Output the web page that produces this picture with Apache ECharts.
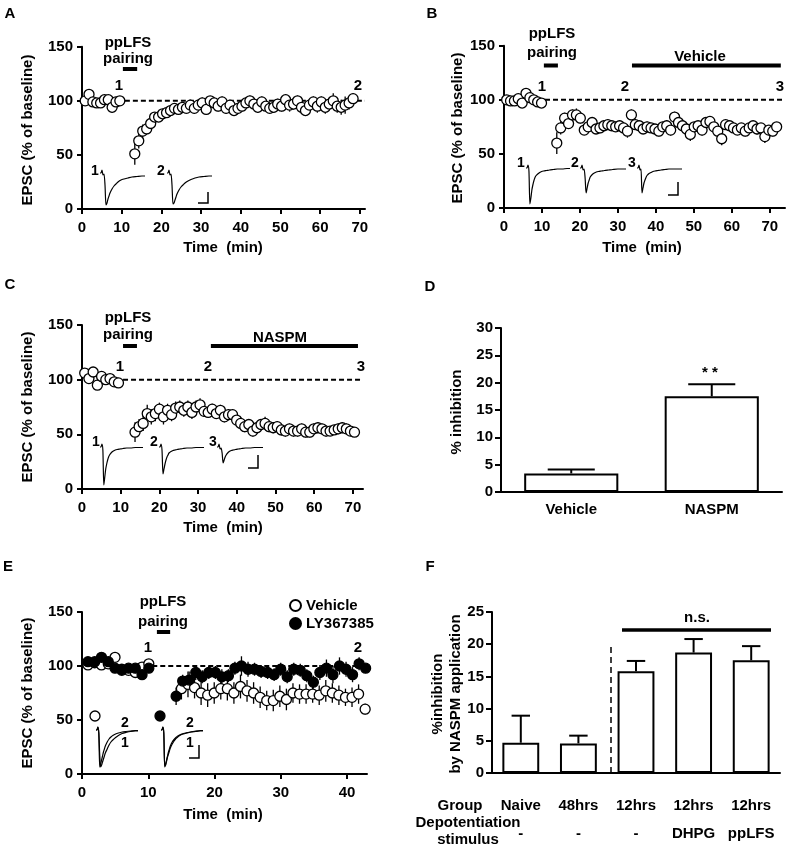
<!DOCTYPE html>
<html>
<head>
<meta charset="utf-8">
<script src="https://cdn.jsdelivr.net/npm/echarts@6/dist/echarts.min.js"></script>
<style>
  html, body { margin: 0; padding: 0; background: #fff; }
  #chart { width: 790px; height: 850px; }
</style>
</head>
<body>
<div id="chart"></div>
<script>
// ---- A: ppLFS pairing, % of baseline ----
const aBaseVal = [100, 106, 99, 98, 98, 101, 101, 94, 99, 100];
const aBaseErr = [3, 3, 3, 2, 3, 3, 3, 5, 3, 2];
const aPostVal = [51, 63, 72, 74, 79, 85, 85, 88, 89, 91, 93, 92, 94, 93, 96, 93, 96, 98, 92, 100,
  98, 95, 99, 93, 96, 91, 93, 95, 98, 100, 97, 94, 99, 95, 93, 94, 97, 95, 101, 96,
  97, 100, 94, 91, 96, 99, 95, 99, 94, 97, 100, 95, 94, 96, 98, 102];
const aPostErr = [10, 7, 6, 5, 5, 4, 4, 4, 4, 4, 4, 4, 4, 4, 5, 5, 4, 5, 5, 4,
  4, 5, 5, 5, 4, 5, 5, 5, 5, 5, 4, 5, 5, 5, 4, 5, 5, 5, 5, 6,
  5, 5, 6, 5, 5, 5, 6, 5, 6, 6, 7, 6, 7, 8, 6, 5];

// ---- B: ppLFS then vehicle ----
const bBaseVal = [100, 99, 99, 101, 97, 106, 102, 100, 98, 97];
const bBaseErr = [2, 2, 2, 3, 3, 3, 3, 3, 2, 2];
const bPostVal = [60, 74, 83, 78, 86, 86, 83, 72, 75, 79, 73, 74, 76, 77, 76, 75, 76, 74, 71, 86,
  77, 76, 73, 75, 74, 73, 71, 75, 76, 72, 84, 79, 76, 73, 68, 75, 76, 72, 79, 80,
  75, 71, 64, 77, 76, 74, 72, 74, 71, 74, 76, 73, 74, 66, 72, 71, 75];
const bPostErr = [10, 6, 5, 5, 5, 6, 5, 4, 4, 5, 4, 5, 4, 5, 4, 4, 5, 5, 6, 5,
  5, 4, 4, 5, 4, 4, 5, 4, 5, 5, 5, 4, 5, 5, 6, 4, 4, 5, 5, 5,
  5, 4, 6, 4, 4, 4, 4, 4, 5, 4, 4, 5, 4, 6, 4, 5, 4];

// ---- C: ppLFS then NASPM ----
const cBaseVal = [106, 101, 107, 95, 103, 100, 101, 98, 97];
const cBaseErr = [3, 3, 3, 3, 3, 2, 3, 3, 3];
const cPostVal = [52, 57, 60, 69, 66, 69, 73, 66, 72, 68, 74, 75, 72, 75, 70, 75, 77, 71, 70, 73,
  69, 72, 66, 68, 68, 63, 60, 57, 59, 53, 56, 59, 60, 57, 56, 57, 54, 53, 55, 53,
  53, 55, 52, 52, 55, 56, 55, 53, 53, 54, 55, 56, 55, 53, 52];
const cPostErr = [9, 7, 7, 8, 7, 7, 6, 7, 6, 6, 6, 6, 6, 6, 6, 6, 6, 5, 5, 5,
  5, 5, 5, 5, 5, 5, 5, 5, 5, 5, 5, 5, 6, 5, 5, 5, 5, 5, 5, 5,
  5, 5, 5, 5, 5, 5, 5, 5, 4, 4, 5, 5, 5, 4, 4];

// ---- D: % inhibition ----
const dCats = ['Vehicle', 'NASPM'];
const dVal = [3.4, 17.5];
const dErr = [0.7, 2.2];

// ---- E: vehicle vs LY367385 ----
const eVehBaseVal = [101, 103, 101, 102, 108, 97, 96, 94, 99, 102];
const eVehBaseErr = [2, 2, 2, 2, 2, 2, 2, 2, 2, 3];
const eLyBaseVal = [104, 104, 108, 104, 98, 96, 98, 98, 92, 98];
const eLyBaseErr = [2, 2, 2, 2, 2, 2, 2, 2, 2, 2];
const eVehPostVal = [79, 83, 80, 75, 73, 75, 79, 79, 75, 81, 77, 75, 71, 68, 68, 72, 69, 75, 74, 74,
  74, 73, 77, 75, 73, 71, 71, 74, 60];
const eVehPostErr = [10, 12, 10, 11, 11, 10, 10, 11, 10, 11, 10, 10, 10, 9, 10, 10, 10, 9, 9, 9,
  8, 9, 10, 9, 9, 8, 9, 9, 5];
const eLyPostVal = [72, 86, 87, 94, 90, 94, 94, 90, 91, 98, 100, 97, 97, 95, 94, 92, 97, 90, 97, 96,
  91, 85, 94, 98, 92, 100, 97, 92, 102, 98];
const eLyPostErr = [8, 6, 8, 7, 6, 6, 6, 7, 6, 6, 9, 7, 6, 6, 6, 6, 6, 6, 6, 6,
  6, 6, 7, 8, 8, 8, 7, 7, 6, 4];

// ---- F: NASPM inhibition by group ----
const fGroups = ['Naive', '48hrs', '12hrs', '12hrs', '12hrs'];
const fStimulus = ['-', '-', '-', 'DHPG', 'ppLFS'];
const fVal = [4.7, 4.6, 15.8, 18.7, 17.5];
const fErr = [4.2, 1.2, 1.6, 2.1, 2.2];

// ---- example EPSC traces (sample times in ms, amplitude) ----
const traceMs = [0, 1, 2, 3, 4, 5, 6, 7, 8, 9, 10, 12, 14, 16, 18, 21, 24, 28, 32, 37, 42, 45];
const traceA1 = [0, 0, 3, -2, -1, -12, -32, -30, -26, -23, -20, -16, -13, -11, -9, -7, -6, -5, -4, -3.5, -3, -3];
const traceA2 = [0, 0, 3, -2, -1, -12, -31, -30, -27, -24, -21, -17, -14, -12, -10, -8, -6.5, -5, -4, -3.5, -3, -3];
const traceB1 = [0, 0, 3, -3, -36, -30, -22, -17, -13, -10, -8, -6, -4.5, -3.5, -3, -2.5, -2, -1.5, -1, -1, -0.5, -0.5];
const traceB2 = [0, 0, 3, -2, -1, -10, -25, -20, -15, -12, -9, -6.5, -5, -4, -3.5, -3, -2.5, -2, -1.5, -1, -1, -1];
const traceB3 = [0, 0, 3, -2, -1, -25, -20, -15, -12, -9.5, -7.5, -5.5, -4.5, -3.5, -3, -2.5, -2, -1.5, -1, -1, -1, -1];
const traceC1 = [0, 0, 3, -3, -38, -30, -22, -17, -13, -10, -8, -5.5, -4, -3, -2.5, -2, -1.5, -1, -1, -0.5, -0.5, -0.5];
const traceC2 = [0, 0, 3, -3, -27, -22, -17, -13, -10, -8, -6, -4.5, -3.5, -3, -2.5, -2, -1.5, -1, -1, -0.5, -0.5, -0.5];
const traceC3 = [0, 0, 3, -2, -1, -6, -16, -13, -10, -8, -6.5, -4.5, -3.5, -3, -2.5, -2, -1.5, -1, -1, -0.5, -0.5, -0.5];
const traceEVeh2 = [0, 0, 3, -3, -37, -34, -30, -26, -22, -19, -16, -12, -9, -7, -5.5, -4, -3, -2, -1.5, -1, -0.5, -0.5];
const traceEVeh1 = [0, 0, 3, -3, -25, -37, -35, -32, -29, -26, -23, -19, -15, -12, -10, -7.5, -5.5, -3.5, -2.5, -1.5, -1, -1];
const traceELy2 = [0, 0, 3, -3, -37, -34, -30, -26, -22, -19, -16, -12, -9.5, -7.5, -6, -4.5, -3.5, -2.5, -2, -1, -0.5, -0.5];
const traceELy1 = [0, 0, 3, -3, -36, -35, -31, -27, -24, -21, -18, -14, -11, -8.5, -7, -5, -4, -3, -2, -1.5, -1, -1];

const FONT = '"Liberation Sans", Arial, sans-serif';
const chart = echarts.init(document.getElementById('chart'));

const grids = [], xAxes = [], yAxes = [], series = [], graphics = [];

// sampling clock: first sample time and spacing in min
function clock(start, step, n) {
  const t = [];
  for (let i = 0; i < n; i++) t.push(+(start + i * step).toFixed(2));
  return t;
}
function pts(times, vals, errs) {
  return vals.map((v, i) => [times[i], v, errs[i]]);
}

const labelStyle = { color: '#000', fontFamily: FONT, fontWeight: 'bold', fontSize: 15 };
const axisLine = { show: true, lineStyle: { color: '#000', width: 2 } };
const axisTick = { show: true, length: 5, lineStyle: { color: '#000', width: 2 } };

function timePanel(box, xMax, xTicks) {
  grids.push({ left: box.left, top: box.top, width: box.width, height: box.height });
  const gi = grids.length - 1;
  xAxes.push({
    gridIndex: gi, type: 'value', min: 0, max: xMax,
    axisLine, axisTick: { ...axisTick, customValues: xTicks },
    axisLabel: { ...labelStyle, customValues: xTicks, margin: 11 },
    splitLine: { show: false }
  });
  yAxes.push({
    gridIndex: gi, type: 'value', min: 0, max: 150, interval: 50,
    axisLine, axisTick, axisLabel: { ...labelStyle, margin: 9 },
    splitLine: { show: false }
  });
  return gi;
}

function errRender(params, api) {
  const x = api.value(0), v = api.value(1), e = api.value(2);
  const lo = api.coord([x, v - e]), hi = api.coord([x, v + e]);
  return { type: 'line', shape: { x1: lo[0], y1: lo[1], x2: hi[0], y2: hi[1] },
    style: { stroke: '#000', lineWidth: 1.3 } };
}

function addPoints(gi, data, filled, name) {
  series.push({ type: 'custom', xAxisIndex: gi, yAxisIndex: gi, data, encode: { x: 0, y: 1 },
    renderItem: errRender, z: 2, silent: true });
  series.push({ type: 'scatter', name, xAxisIndex: gi, yAxisIndex: gi,
    data: data.map(d => [d[0], d[1]]), symbol: 'circle', symbolSize: 10, z: 3,
    itemStyle: { color: filled ? '#000' : '#fff', borderColor: '#000', borderWidth: 1.3, opacity: 1 } });
}

function addSegment(gi, x0, x1, y, width, dashed) {
  series.push({ type: 'line', xAxisIndex: gi, yAxisIndex: gi, data: [[x0, y], [x1, y]],
    symbol: 'none', silent: true, z: 1,
    lineStyle: { color: '#000', width, type: dashed ? [5, 3] : 'solid' } });
}

function addTrace(box, traces) {
  grids.push({ left: box.left, top: box.base - 5, width: box.w, height: 45 });
  const gi = grids.length - 1;
  xAxes.push({ gridIndex: gi, type: 'value', min: 0, max: 45, show: false });
  yAxes.push({ gridIndex: gi, type: 'value', min: -40, max: 5, show: false });
  traces.forEach(tr => series.push({
    type: 'line', xAxisIndex: gi, yAxisIndex: gi, data: traceMs.map((t, i) => [t, tr[i]]),
    symbol: 'none', smooth: 0.25, silent: true, lineStyle: { color: '#000', width: 1.2 }
  }));
}

function barPanel(box, cats, vals, errs, yMax, barFrac, xLabel) {
  grids.push({ left: box.left, top: box.top, width: box.width, height: box.height });
  const gi = grids.length - 1;
  xAxes.push({ gridIndex: gi, type: 'category', data: cats, axisLine, axisTick: { show: false },
    axisLabel: { ...labelStyle, interval: 0, ...xLabel } });
  yAxes.push({ gridIndex: gi, type: 'value', min: 0, max: yMax, interval: 5,
    axisLine, axisTick: { ...axisTick, length: 6 }, axisLabel: { ...labelStyle, margin: 8 },
    splitLine: { show: false } });
  series.push({ type: 'bar', xAxisIndex: gi, yAxisIndex: gi, data: vals, barWidth: (barFrac * 100) + '%',
    silent: true, itemStyle: { color: '#fff', borderColor: '#000', borderWidth: 2 } });
  series.push({
    type: 'custom', xAxisIndex: gi, yAxisIndex: gi, silent: true, z: 3,
    data: vals.map((v, i) => [i, v, errs[i]]), encode: { x: 0, y: 1 },
    renderItem(params, api) {
      const i = api.value(0), v = api.value(1), e = api.value(2);
      const base = api.coord([i, v]), top = api.coord([i, v + e]);
      const half = api.size([1, 0])[0] * barFrac / 4;
      const st = { stroke: '#000', lineWidth: 2 };
      return { type: 'group', children: [
        { type: 'line', shape: { x1: base[0], y1: base[1], x2: top[0], y2: top[1] }, style: st },
        { type: 'line', shape: { x1: top[0] - half, y1: top[1], x2: top[0] + half, y2: top[1] }, style: st }
      ] };
    }
  });
  return gi;
}

function txt(s, x, y, opts = {}) {
  graphics.push({ type: 'text', x, y, rotation: opts.rot || 0, silent: true,
    style: { text: s, fill: '#000', font: 'bold ' + (opts.size || 15) + 'px ' + FONT,
      align: opts.align || 'center', verticalAlign: 'middle', lineHeight: opts.lh || 18 } });
}
function poly(points, width, dash) {
  graphics.push({ type: 'polyline', silent: true, shape: { points },
    style: { stroke: '#000', lineWidth: width, fill: null, lineDash: dash || null } });
}

// ---------- panel A ----------
const gA = timePanel({ left: 82, top: 46.7, width: 283, height: 162.3 }, 71.3, [0, 10, 20, 30, 40, 50, 60, 70]);
addSegment(gA, 10.8, 71.3, 100, 2, true);
addSegment(gA, 10.3, 13.9, 129.4, 4, false);
addPoints(gA, pts(clock(0.8, 0.97, aBaseVal.length), aBaseVal, aBaseErr), false);
addPoints(gA, pts(clock(13.3, 1.0, aPostVal.length), aPostVal, aPostErr), false);
addTrace({ left: 100, base: 173, w: 45 }, [traceA1]);
addTrace({ left: 167, base: 173, w: 45 }, [traceA2]);

// ---------- panel B ----------
const gB = timePanel({ left: 504, top: 45.7, width: 281, height: 162.3 }, 74, [0, 10, 20, 30, 40, 50, 60, 70]);
addSegment(gB, 10.8, 74, 100, 2, true);
addSegment(gB, 10.5, 14.2, 131.8, 4, false);
addSegment(gB, 33.7, 72.9, 131.8, 4, false);
addPoints(gB, pts(clock(0.7, 1.02, bBaseVal.length), bBaseVal, bBaseErr), false);
addPoints(gB, pts(clock(13.9, 1.034, bPostVal.length), bPostVal, bPostErr), false);
addTrace({ left: 526, base: 168, w: 44 }, [traceB1]);
addTrace({ left: 580, base: 168, w: 46 }, [traceB2]);
addTrace({ left: 637, base: 168, w: 45 }, [traceB3]);

// ---------- panel C ----------
const gC = timePanel({ left: 82, top: 325, width: 281, height: 164 }, 72.6, [0, 10, 20, 30, 40, 50, 60, 70]);
addSegment(gC, 10.6, 72.6, 100, 2, true);
addSegment(gC, 10.6, 14.2, 130.8, 4, false);
addSegment(gC, 33.3, 71.3, 130.8, 4, false);
addPoints(gC, pts(clock(0.7, 1.09, cBaseVal.length), cBaseVal, cBaseErr), false);
addPoints(gC, pts(clock(13.7, 1.05, cPostVal.length), cPostVal, cPostErr), false);
addTrace({ left: 100, base: 447, w: 43 }, [traceC1]);
addTrace({ left: 159, base: 447, w: 45 }, [traceC2]);
addTrace({ left: 217, base: 447, w: 46 }, [traceC3]);

// ---------- panel D ----------
barPanel({ left: 501, top: 328, width: 281, height: 164 }, dCats, dVal, dErr, 30, 0.67, { margin: 10 });

// ---------- panel E ----------
const gE = timePanel({ left: 82, top: 612, width: 285, height: 162 }, 43, [0, 10, 20, 30, 40]);
addSegment(gE, 10.6, 43, 100, 2, true);
addSegment(gE, 11.3, 13.3, 131.5, 4, false);
addPoints(gE, pts(clock(0.9, 1.02, eVehBaseVal.length), eVehBaseVal, eVehBaseErr), false, 'Vehicle');
addPoints(gE, pts(clock(15, 0.99, eVehPostVal.length), eVehPostVal, eVehPostErr), false, 'Vehicle');
addPoints(gE, pts(clock(0.9, 1.02, eLyBaseVal.length), eLyBaseVal, eLyBaseErr), true, 'LY367385');
addPoints(gE, pts(clock(14.2, 0.986, eLyPostVal.length), eLyPostVal, eLyPostErr), true, 'LY367385');
addTrace({ left: 96, base: 730, w: 42 }, [traceEVeh1, traceEVeh2]);
addTrace({ left: 161, base: 730, w: 42 }, [traceELy1, traceELy2]);

// ---------- panel F ----------
barPanel({ left: 492, top: 612, width: 288, height: 161 }, fGroups, fVal, fErr, 25, 0.64, {
  margin: 19, lineHeight: 28,
  formatter: (v, i) => fGroups[i] + '\n' + fStimulus[i]
});

// ---------- annotations ----------
[['A', 10, 14], ['B', 432, 14], ['C', 10, 285], ['D', 430, 287], ['E', 8, 567], ['F', 430, 567]]
  .forEach(([s, x, y]) => txt(s, x, y, { size: 15 }));

const yTitle = 'EPSC (% of baseline)', xTitle = 'Time  (min)';
txt(yTitle, 28, 130, { rot: Math.PI / 2 }); txt(xTitle, 223, 248);
txt(yTitle, 458, 128, { rot: Math.PI / 2 }); txt(xTitle, 642, 248);
txt(yTitle, 28, 407, { rot: Math.PI / 2 }); txt(xTitle, 223, 528);
txt('% inhibition', 457, 412, { rot: Math.PI / 2 });
txt(yTitle, 28, 693, { rot: Math.PI / 2 }); txt(xTitle, 223, 815);
txt('%inhibition\nby NASPM application', 447, 694, { rot: Math.PI / 2 });

txt('ppLFS', 128, 43); txt('pairing', 128, 59);
txt('ppLFS', 552, 34); txt('pairing', 552, 53); txt('Vehicle', 700, 57);
txt('ppLFS', 128, 318); txt('pairing', 128, 335); txt('NASPM', 280, 338);
txt('ppLFS', 163, 602); txt('pairing', 163, 622);

// time-point markers
txt('1', 119, 86); txt('2', 358, 86);
txt('1', 542, 87); txt('2', 625, 87); txt('3', 780, 87);
txt('1', 120, 367); txt('2', 208, 367); txt('3', 361, 367);
txt('1', 148, 648); txt('2', 358, 648);

// trace labels
txt('1', 95, 171, { size: 14 }); txt('2', 161, 171, { size: 14 });
txt('1', 521, 163, { size: 14 }); txt('2', 575, 163, { size: 14 }); txt('3', 632, 163, { size: 14 });
txt('1', 96, 442, { size: 14 }); txt('2', 154, 442, { size: 14 }); txt('3', 213, 442, { size: 14 });
txt('2', 125, 723, { size: 14 }); txt('1', 125, 743, { size: 14 });
txt('2', 190, 723, { size: 14 }); txt('1', 190, 743, { size: 14 });
graphics.push({ type: 'circle', silent: true, shape: { cx: 95, cy: 716, r: 5 }, style: { fill: '#fff', stroke: '#000', lineWidth: 1.3 } });
graphics.push({ type: 'circle', silent: true, shape: { cx: 160, cy: 716, r: 5 }, style: { fill: '#000', stroke: '#000', lineWidth: 1.3 } });

// scale bars
poly([[198, 203], [208, 203], [208, 192]], 1.5);
poly([[668, 195], [678, 195], [678, 182]], 1.5);
poly([[248, 468], [258, 468], [258, 455]], 1.5);
poly([[189, 758], [199, 758], [199, 745]], 1.5);

// D / F significance marks
txt('* *', 710, 373);
txt('n.s.', 697, 618);
poly([[622, 630], [771, 630]], 3.5);
poly([[611, 647], [611, 773]], 1.5, [6, 4]);
txt('Group', 460, 806);
txt('Depotentiation', 468, 823);
txt('stimulus', 468, 840);

chart.setOption({
  animation: false,
  backgroundColor: '#fff',
  grid: grids,
  xAxis: xAxes,
  yAxis: yAxes,
  series,
  graphic: graphics,
  legend: {
    data: ['Vehicle', 'LY367385'], orient: 'vertical', left: 284, top: 593,
    itemWidth: 11, itemHeight: 11, itemGap: 3, icon: 'circle', selectedMode: false,
    textStyle: { color: '#000', fontFamily: FONT, fontWeight: 'bold', fontSize: 15 }
  }
});
</script>
</body>
</html>
